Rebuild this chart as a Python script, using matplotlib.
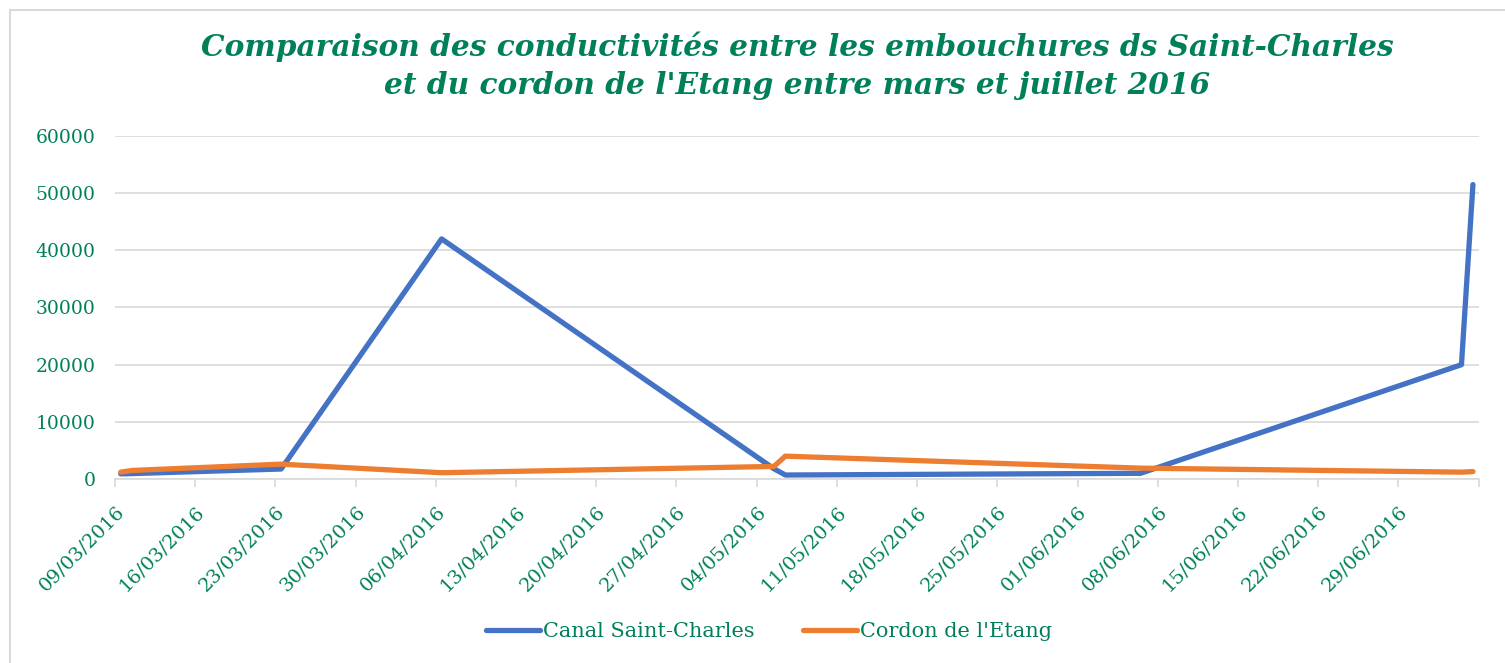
import matplotlib.pyplot as plt
from matplotlib.patches import Rectangle
import pandas as pd

# dates de mesure et conductivités
dates = ['09/03/2016', '10/03/2016', '23/03/2016', '06/04/2016', '05/05/2016',
         '06/05/2016', '06/06/2016', '04/07/2016', '05/07/2016']
canal = [900, 950, 1750, 42000, 1800, 700, 1000, 20000, 51500]
cordon = [1200, 1500, 2600, 1100, 2200, 4000, 1900, 1200, 1300]
y_ticks = [0, 10000, 20000, 30000, 40000, 50000, 60000]

vert = '#00805A'
plt.rcParams['font.family'] = ['DejaVu Serif']

# points placés au milieu de la journée, comme dans Excel
x = pd.to_datetime(dates, format='%d/%m/%Y') + pd.Timedelta(hours=12)

fig = plt.figure(figsize=(15.05, 6.63), dpi=100)
ax = fig.add_axes([0.0764, 0.2775, 0.9061, 0.5174])

ax.plot(x, canal, color='#4472C4', lw=3.8, solid_capstyle='round', solid_joinstyle='round',
        label='Canal Saint-Charles', zorder=3)
ax.plot(x, cordon, color='#ED7D31', lw=3.8, solid_capstyle='round', solid_joinstyle='round',
        label="Cordon de l'Etang", zorder=3)

debut = pd.Timestamp('2016-03-09')
fin = pd.Timestamp('2016-07-06')
ax.set_xlim(debut, fin)
ax.set_ylim(0, 60000)
ax.set_yticks(y_ticks)
ax.set_yticklabels([str(v) for v in y_ticks])

ticks = pd.date_range(debut, fin, freq='7D')
ticks = ticks[ticks < fin]
ax.set_xticks(ticks)
ax.set_xticklabels([t.strftime('%d/%m/%Y') for t in ticks], rotation=45,
                   ha='right', va='top', rotation_mode='anchor')
# repère sans étiquette à la fin de l'axe
ax.set_xticks([fin], minor=True)

ax.grid(axis='y', color='#D9D9D9', lw=1.2)
ax.set_axisbelow(True)
for s in ['top', 'right', 'left']:
    ax.spines[s].set_visible(False)
ax.spines['bottom'].set_color('#D9D9D9')
ax.spines['bottom'].set_linewidth(1.2)
ax.tick_params(axis='x', which='both', colors='#D9D9D9', length=6, width=1.2,
               labelcolor=vert, labelsize=14, pad=11)
ax.tick_params(axis='y', length=0, labelcolor=vert, labelsize=13.5, pad=14)

fig.text(797 / 1505, 0.952, "Comparaison des conductivités entre les embouchures ds Saint-Charles\n"
         "et du cordon de l'Etang entre mars et juillet 2016",
         ha='center', va='top', color=vert, fontsize=21.3, fontweight='bold',
         fontstyle='italic', linespacing=1.38)

fig.legend(loc='center', bbox_to_anchor=(0.511, 0.047), ncol=2, frameon=False,
           fontsize=15, labelcolor=vert, handlelength=2.6, handletextpad=0.15,
           columnspacing=2.3)

fig.add_artist(Rectangle((10 / 1505, -0.1), 1.2, 1.085, transform=fig.transFigure,
                         fill=False, edgecolor='#D9D9D9', lw=1.5))

fig.savefig('out.png', dpi=100)
